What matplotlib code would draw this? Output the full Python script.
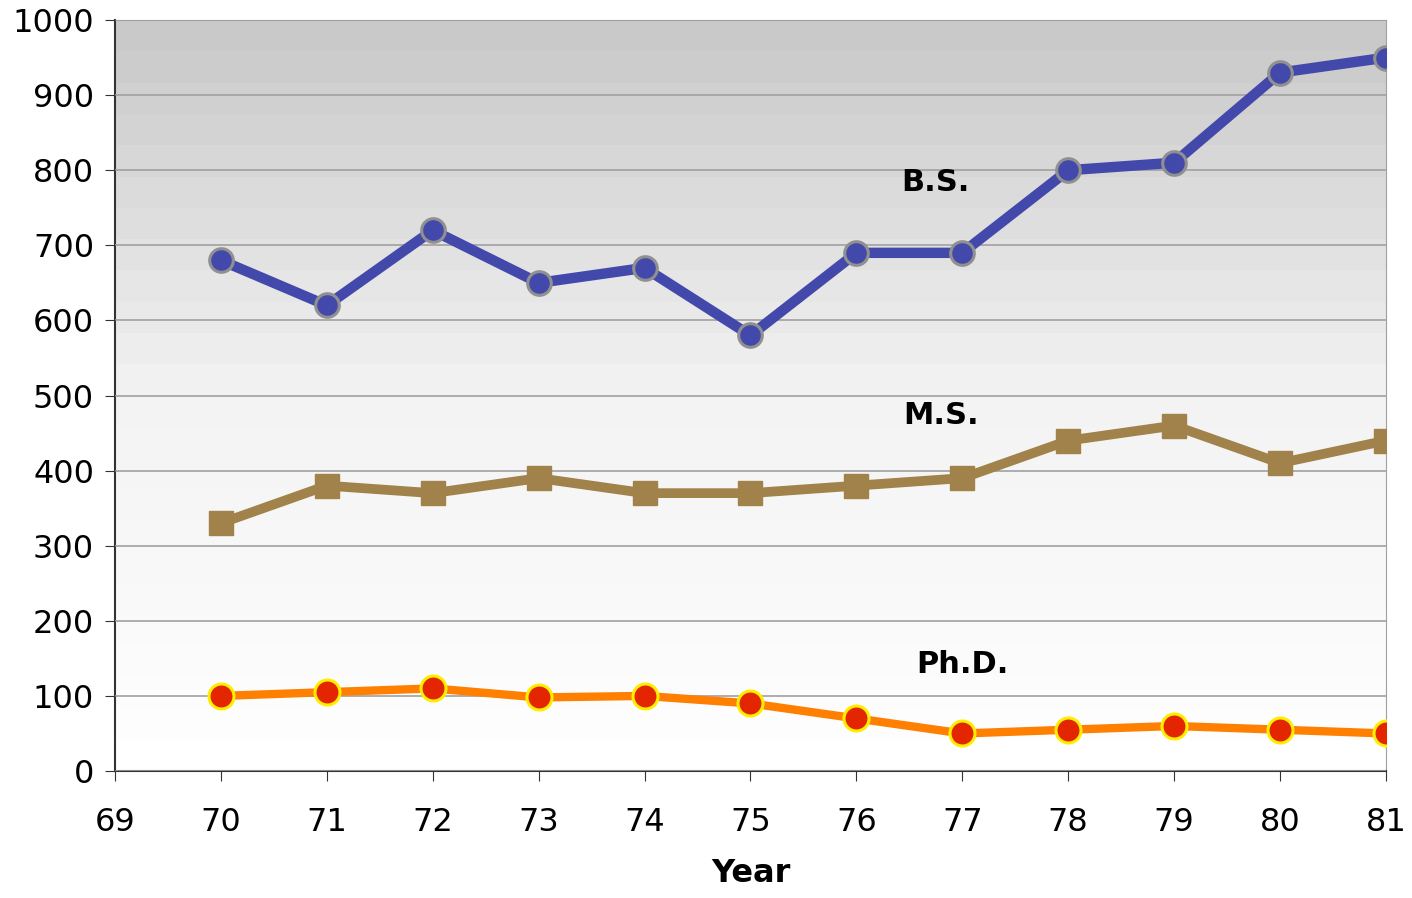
import numpy as np
import matplotlib
matplotlib.use("Agg")
import matplotlib.pyplot as plt
from matplotlib.colors import LinearSegmentedColormap

# Data
years = [70, 71, 72, 73, 74, 75, 76, 77, 78, 79, 80, 81]
bs = [680, 620, 720, 650, 670, 580, 690, 690, 800, 810, 930, 950]
ms = [330, 380, 370, 390, 370, 370, 380, 390, 440, 460, 410, 440]
phd = [100, 105, 110, 98, 100, 90, 70, 50, 55, 60, 55, 50]

fig = plt.figure(figsize=(14.12, 8.98), dpi=100)
ax = fig.add_axes([0.0814, 0.1414, 0.9002, 0.8363])

# Banded gray-to-white background
cmap = LinearSegmentedColormap.from_list("bg", ["#ffffff", "#f3f3f3", "#c9c9c9"])
grad = np.linspace(0, 1, 24).reshape(-1, 1)
ax.imshow(grad, aspect="auto", cmap=cmap, origin="lower",
          extent=[69, 81, 0, 1000], zorder=0, interpolation="nearest")

ax.set_xlim(69, 81)
ax.set_ylim(0, 1000)
ax.set_xticks(range(69, 82))
ax.set_yticks(range(0, 1001, 100))
ax.yaxis.grid(True, color="#a0a0a0", linewidth=1.2, zorder=1)
ax.set_axisbelow(False)

ax.plot(years, bs, color="#4349ab", linewidth=7.5, marker="o", markersize=17,
        markerfacecolor="#4349ab", markeredgecolor="#909090", markeredgewidth=2.2, zorder=3)
ax.plot(years, ms, color="#a0824a", linewidth=7, marker="s", markersize=17,
        markerfacecolor="#a0824a", markeredgecolor="#a0824a", zorder=3)
ax.plot(years, phd, color="#ff7f00", linewidth=6, marker="o", markersize=18,
        markerfacecolor="#e32600", markeredgecolor="#ffee00", markeredgewidth=2.2, zorder=3)

ax.text(76.75, 783, "B.S.", fontsize=22, fontweight="bold", ha="center", va="center")
ax.text(76.8, 473, "M.S.", fontsize=22, fontweight="bold", ha="center", va="center")
ax.text(77.0, 142, "Ph.D.", fontsize=22, fontweight="bold", ha="center", va="center")

ax.set_xlabel("Year", fontsize=23, fontweight="bold", labelpad=14)
ax.tick_params(axis="both", labelsize=23, length=7, color="#333333")
ax.tick_params(axis="x", pad=19)
ax.tick_params(axis="y", pad=8)
for side in ["top", "right"]:
    ax.spines[side].set_color("#a0a0a0")
for side in ["left", "bottom"]:
    ax.spines[side].set_color("#333333")
    ax.spines[side].set_linewidth(1.5)

fig.savefig("out.png", dpi=100)
